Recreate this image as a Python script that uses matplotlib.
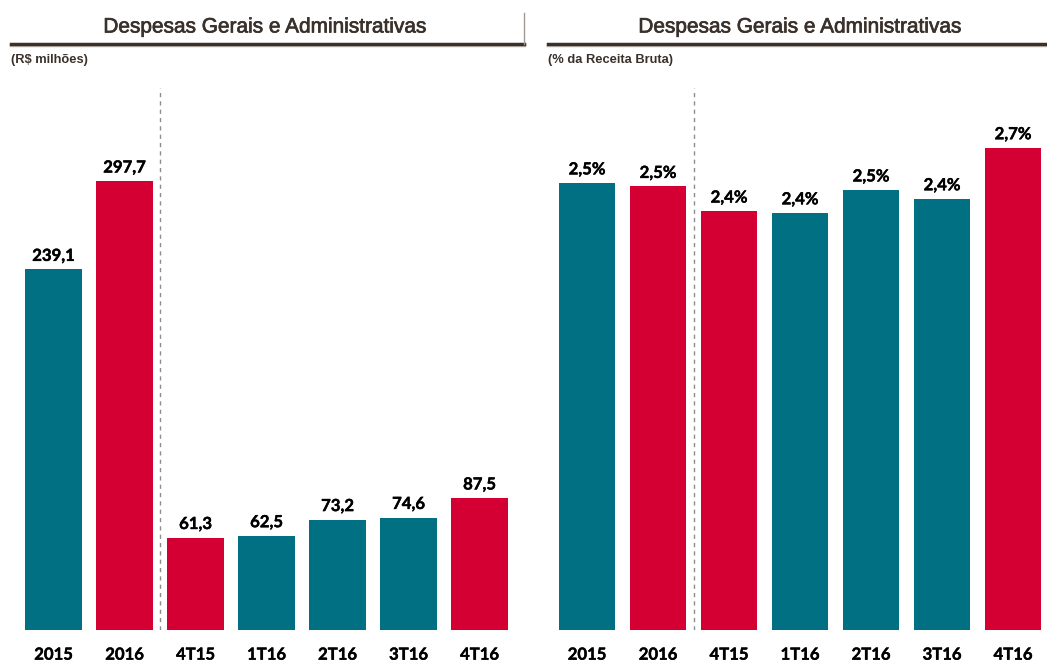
import matplotlib
matplotlib.use("Agg")
import matplotlib.pyplot as plt
from matplotlib.lines import Line2D
import matplotlib.patheffects as pe

categories = ["2015", "2016", "4T15", "1T16", "2T16", "3T16", "4T16"]
values_brl = [239.1, 297.7, 61.3, 62.5, 73.2, 74.6, 87.5]
labels_brl = ["239,1", "297,7", "61,3", "62,5", "73,2", "74,6", "87,5"]
values_pct = [2.54, 2.52, 2.38, 2.37, 2.50, 2.45, 2.74]
labels_pct = ["2,5%", "2,5%", "2,4%", "2,4%", "2,5%", "2,4%", "2,7%"]
bar_colors = ["teal", "red", "red", "teal", "teal", "teal", "red"]

TEAL = "#007082"
RED = "#D40033"
cmap = {"teal": TEAL, "red": RED}
TITLE_C = "#3b312b"

W, H = 1047, 662
fig = plt.figure(figsize=(W / 100, H / 100), dpi=100)

def fx(px):
    return px / W

def fy(py):
    return 1 - py / H

LABEL_FONT = "Lato"
bold_fx = [pe.withStroke(linewidth=0.3, foreground="black")]

def panel(left_px, values, labels, ytop, label_off):
    ax = fig.add_axes([fx(left_px), fy(630), fx(497), (630 - 88) / H])
    x = list(range(len(categories)))
    ax.bar(x, values, width=0.8, color=[cmap[c] for c in bar_colors], zorder=2)
    ax.set_xlim(-0.5, len(categories) - 0.5)
    ax.set_ylim(0, ytop)
    for xi, v, lab in zip(x, values, labels):
        ax.annotate(lab, (xi, v), xytext=(0, label_off), textcoords="offset points",
                    ha="center", va="bottom", fontsize=12, fontweight="bold",
                    family=LABEL_FONT, color="black", path_effects=bold_fx)
    ax.axvline(1.5, color="#8c8c8c", linestyle=(0, (3, 3)), linewidth=1, zorder=1)
    for s in ax.spines.values():
        s.set_visible(False)
    ax.set_yticks([])
    ax.set_xticks(x)
    ax.set_xticklabels(categories, fontsize=12, fontweight="bold", family=LABEL_FONT)
    for t in ax.get_xticklabels():
        t.set_path_effects(bold_fx)
    ax.tick_params(axis="x", length=0, pad=12)
    ax.patch.set_alpha(0)
    return ax

panel(18, values_brl, labels_brl, (630 - 88) / 1.508, 4)
panel(551.5, values_pct, labels_pct, (630 - 88) / 176.0, 4)

# titles
for cx, x0, x1 in [(265, 11, 524), (800, 548, 1047)]:
    fig.text(fx(cx), fy(27), "Despesas Gerais e Administrativas", ha="center", va="center",
             fontsize=15, family="Liberation Sans", color=TITLE_C,
             path_effects=[pe.withStroke(linewidth=0.5, foreground=TITLE_C)])
    fig.add_artist(Line2D([fx(x0), fx(x1)], [fy(45), fy(45)], color="#c8c2bd", linewidth=2.5))
    fig.add_artist(Line2D([fx(x0), fx(x1)], [fy(43.5), fy(43.5)], color=TITLE_C, linewidth=2.5))

fig.add_artist(Line2D([fx(524), fx(524)], [fy(13), fy(44)], color="#a09a96", linewidth=1))

fig.text(fx(11), fy(60), "(R$ milhões)", ha="left", va="center", fontsize=9.3,
         fontweight="bold", family="Liberation Sans", color=TITLE_C)
fig.text(fx(548), fy(60), "(% da Receita Bruta)", ha="left", va="center", fontsize=9.3,
         fontweight="bold", family="Liberation Sans", color=TITLE_C)

fig.savefig("out.png", dpi=100)
